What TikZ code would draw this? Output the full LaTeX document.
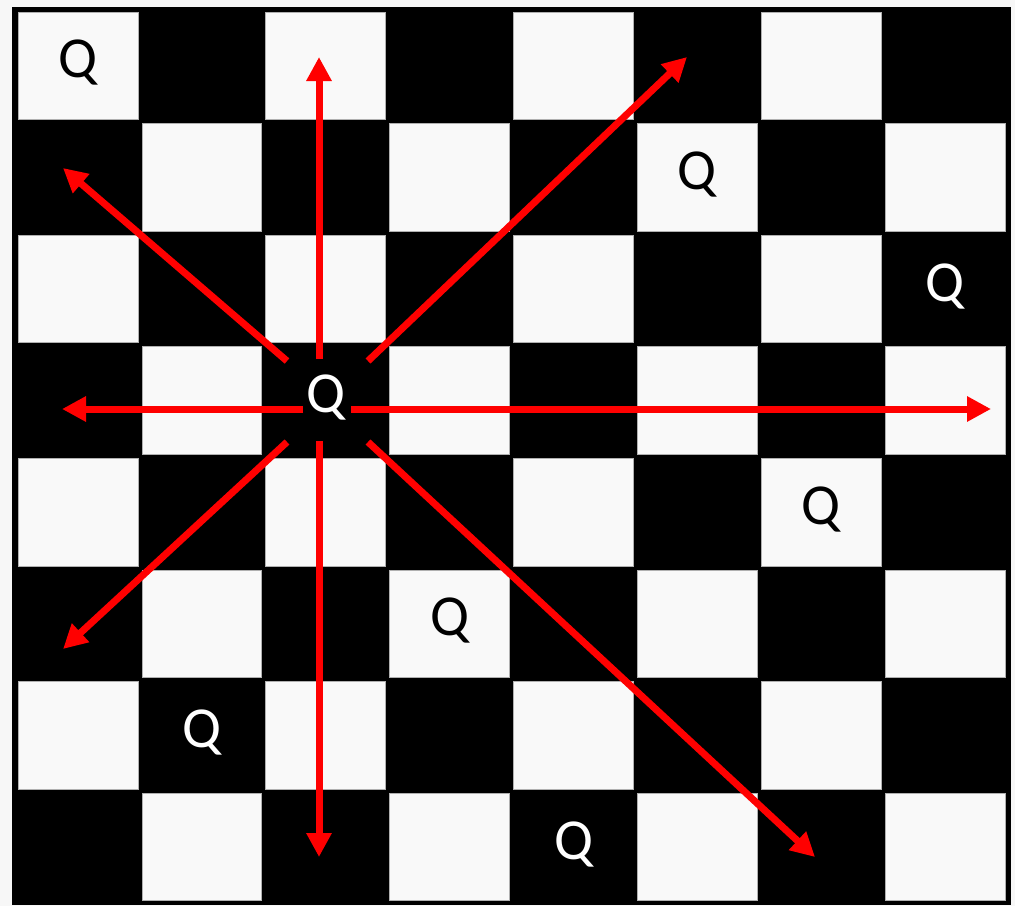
\documentclass[tikz,border=0pt]{standalone}
\usepackage{fontspec}
\setmainfont{Carlito}
\usetikzlibrary{arrows.meta}
\definecolor{bg}{HTML}{F7F7F7}
\definecolor{sq}{HTML}{F9F9F9}
\definecolor{sqedge}{HTML}{B0B0B0}
\definecolor{arrowred}{HTML}{FF0000}
\begin{document}
\begin{tikzpicture}[x=1pt,y=-1pt,
  whitesq/.style={fill=sq,draw=sqedge,line width=0.8pt},
  queenlbl/.style={font=\fontsize{58}{58}\selectfont,inner sep=0pt,anchor=base},
  onlight/.style={queenlbl,text=black},
  ondark/.style={queenlbl,text=white},
  attack/.style={draw=arrowred,line width=7pt,-{Triangle[length=24pt,width=24pt]}}]
\fill[bg] (0,0) rectangle (1015,906);
\useasboundingbox (0,0) rectangle (1015,906);
\fill[black] (12,7) rectangle (1011,905);
\foreach \r in {0,...,7} {
  \foreach \c in {0,...,7} {
    \pgfmathtruncatemacro{\cellparity}{mod(\r+\c,2)}
    \ifnum\cellparity=0
      \draw[whitesq] ({16+123.9*\c+2},{10+111.6*\r+2}) rectangle ({16+123.9*(\c+1)-2},{10+111.6*(\r+1)-2});
    \fi
  }
}
% queens (col, row)
\node[onlight] (q00) at ({16+123.9*0.5},{10+111.6*0.5+12}) {Q};
\node[onlight] (q15) at ({16+123.9*5.5},{10+111.6*1.5+12}) {Q};
\node[ondark]  (q27) at ({16+123.9*7.5},{10+111.6*2.5+12}) {Q};
\node[ondark]  (q32) at ({16+123.9*2.5},{10+111.6*3.5+12}) {Q};
\node[onlight] (q46) at ({16+123.9*6.5},{10+111.6*4.5+12}) {Q};
\node[onlight] (q53) at ({16+123.9*3.5},{10+111.6*5.5+12}) {Q};
\node[ondark]  (q61) at ({16+123.9*1.5},{10+111.6*6.5+12}) {Q};
\node[ondark]  (q74) at ({16+123.9*4.5},{10+111.6*7.5+12}) {Q};
% attack rays from the queen on row 3
\coordinate (sU)  at (319,359);
\coordinate (sD)  at (319,441);
\coordinate (sL)  at (303,409);
\coordinate (sR)  at (351,409);
\coordinate (sUL) at (287,361);
\coordinate (sUR) at (368,361);
\coordinate (sDL) at (287,442);
\coordinate (sDR) at (368,442);
\coordinate (eU)  at (319,57);
\coordinate (eD)  at (319,857);
\coordinate (eL)  at (62,409);
\coordinate (eR)  at (991,409);
\coordinate (eUL) at (63,168);
\coordinate (eUR) at (687,57);
\coordinate (eDL) at (63,649);
\coordinate (eDR) at (815,857);
\draw[attack] (sU) -- (eU);
\draw[attack] (sD) -- (eD);
\draw[attack] (sL) -- (eL);
\draw[attack] (sR) -- (eR);
\draw[attack] (sUL) -- (eUL);
\draw[attack] (sUR) -- (eUR);
\draw[attack] (sDL) -- (eDL);
\draw[attack] (sDR) -- (eDR);
\end{tikzpicture}
\end{document}
